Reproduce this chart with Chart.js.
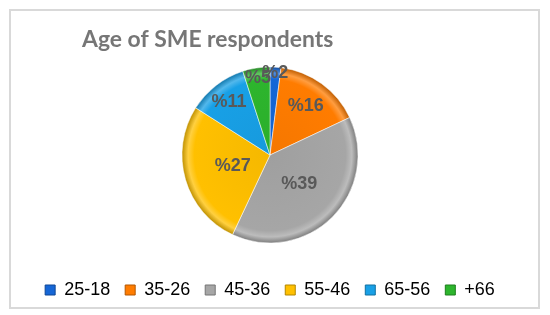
<!DOCTYPE html>
<html>
<head>
<meta charset="utf-8">
<script src="https://cdn.jsdelivr.net/npm/chart.js@4"></script>
<style>
  html, body { margin: 0; padding: 0; background: #fff; }
  #wrap { width: 550px; height: 315px; position: relative; }
</style>
</head>
<body>
<div id="wrap"><canvas id="myChart"></canvas></div>
<script>
// data
const chartTitle = "Age of SME respondents";
const ageGroups = ["25-18", "35-26", "45-36", "55-46", "65-56", "+66"];
const shares = [2, 16, 39, 27, 11, 5];
const sliceColors = ["#1566d6", "#ff7c00", "#a6a6a6", "#ffc000", "#18a0e6", "#2db52d"];
// how far out each % label sits (fraction of radius), Excel nudged the small ones
const labelPos = [0.93, 0.69, 0.47, 0.44, 0.76, 0.88];

function shade(hex, amt) {
    let n = parseInt(hex.slice(1), 16);
    let r = (n >> 16) & 255, g = (n >> 8) & 255, b = n & 255;
    const f = c => Math.max(0, Math.min(255, Math.round(amt < 0 ? c * (1 + amt) : c + (255 - c) * amt)));
    return "rgb(" + f(r) + "," + f(g) + "," + f(b) + ")";
}

// bevel-ish fill like the excel 3D look
function sliceFill(ctx) {
    const base = sliceColors[ctx.dataIndex];
    const area = ctx.chart.chartArea;
    if (!area) return base;
    const cx = (area.left + area.right) / 2;
    const cy = (area.top + area.bottom) / 2;
    const g = ctx.chart.ctx.createRadialGradient(cx, cy, 0, cx, cy, 88);
    g.addColorStop(0, shade(base, -0.04));
    g.addColorStop(0.86, base);
    g.addColorStop(0.93, shade(base, 0.25));
    g.addColorStop(1, shade(base, -0.25));
    return g;
}

const frame = {
    id: "frame",
    beforeDraw(chart) {
        const c = chart.ctx;
        c.save();
        c.strokeStyle = "#d9d9d9";
        c.lineWidth = 2;
        c.strokeRect(10, 10, 529, 298);
        c.restore();
    }
};

const titleText = {
    id: "titleText",
    afterDraw(chart) {
        const c = chart.ctx;
        c.save();
        let size = 22;
        c.font = "bold " + size + "px Lato";
        const w = c.measureText(chartTitle).width;
        size = size * 251 / w;
        c.font = "bold " + size.toFixed(1) + "px Lato";
        c.fillStyle = "#767676";
        c.textBaseline = "alphabetic";
        c.fillText(chartTitle, 82, 47);
        c.restore();
    }
};

const pctLabels = {
    id: "pctLabels",
    afterDatasetsDraw(chart) {
        const c = chart.ctx;
        const meta = chart.getDatasetMeta(0);
        c.save();
        c.font = "bold 18px 'Liberation Sans', Arial";
        c.fillStyle = "#595959";
        c.textAlign = "center";
        c.textBaseline = "middle";
        meta.data.forEach((arc, i) => {
            const mid = (arc.startAngle + arc.endAngle) / 2;
            const d = arc.outerRadius * labelPos[i];
            c.fillText("%" + shares[i], arc.x + Math.cos(mid) * d, arc.y + Math.sin(mid) * d);
        });
        c.restore();
    }
};

new Chart("myChart", {
    type: "pie",
    data: {
        labels: ageGroups,
        datasets: [{
            data: shares,
            backgroundColor: sliceFill,
            borderColor: "rgba(255,255,255,0.5)",
            borderWidth: 1,
            radius: 88
        }]
    },
    options: {
        responsive: true,
        maintainAspectRatio: false,
        animation: false,
        layout: { padding: { top: 44, bottom: 6, left: 0, right: 10 } },
        plugins: {
            tooltip: { enabled: false },
            title: { display: false },
            legend: {
                position: "bottom",
                labels: {
                    boxWidth: 10,
                    boxHeight: 10,
                    padding: 15,
                    color: "#595959",
                    font: { family: "'Liberation Sans', Arial", size: 18 },
                    generateLabels(chart) {
                        return ageGroups.map((g, i) => ({
                            text: g,
                            fillStyle: sliceColors[i],
                            strokeStyle: shade(sliceColors[i], -0.3),
                            lineWidth: 1,
                            index: i,
                            hidden: false
                        }));
                    }
                }
            }
        }
    },
    plugins: [frame, titleText, pctLabels]
});
</script>
</body>
</html>
